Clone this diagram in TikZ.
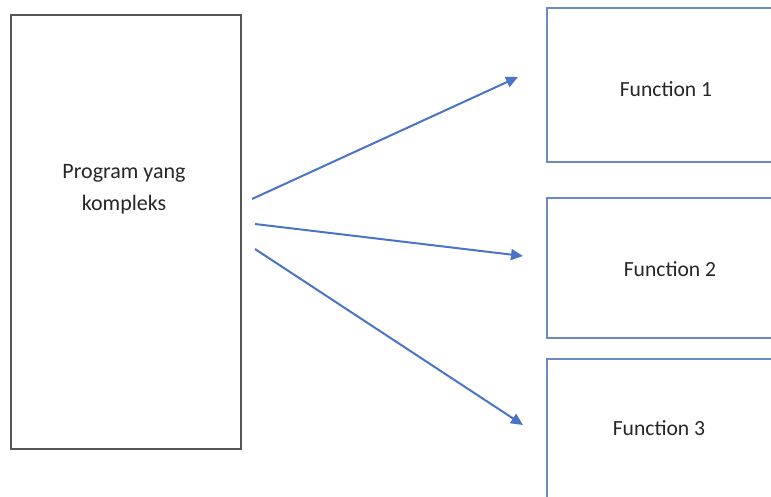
\documentclass[tikz,border=0pt]{standalone}
\usepackage{fontspec}
\setmainfont{Carlito}
\usetikzlibrary{arrows.meta}
\definecolor{boxblue}{HTML}{6A8AC8}
\definecolor{arrowblue}{HTML}{4A74C6}
\definecolor{boxgray}{HTML}{555555}
\definecolor{txt}{HTML}{262626}
\tikzset{
  prog/.style={draw=boxgray, line width=2pt, inner sep=0pt, anchor=north west},
  func/.style={draw=boxblue, line width=1.5pt, inner sep=0pt, anchor=north west},
  progtext/.style={font=\fontsize{22pt}{32pt}\selectfont, align=center, text=txt},
  functext/.style={font=\fontsize{21.6pt}{26pt}\selectfont, text=txt},
  conn/.style={draw=arrowblue, line width=2pt, -{Triangle[length=12pt,width=11pt]}}
}
\begin{document}
\begin{tikzpicture}[x=1pt,y=-1pt]
\useasboundingbox (0,0) rectangle (771,496);
\clip (0,0) rectangle (771,496);
\node[prog, minimum width=230pt, minimum height=434pt] (p) at (10,14) {};
\node[progtext] (pt) at (124,189) {Program yang\\kompleks};
\node[func, minimum width=240pt, minimum height=154pt] (f1) at (546,7) {};
\node[func, minimum width=240pt, minimum height=140pt] (f2) at (546,197) {};
\node[func, minimum width=240pt, minimum height=160pt] (f3) at (546,358) {};
\node[functext] (t1) at (666,89) {Function 1};
\node[functext] (t2) at (670,269) {Function 2};
\node[functext] (t3) at (659,428) {Function 3};
\coordinate (s1) at (252,199);
\coordinate (e1) at (518,77);
\coordinate (s2) at (255,224);
\coordinate (e2) at (523,256);
\coordinate (s3) at (255,249);
\coordinate (e3) at (523,425);
\draw[conn] (s1) -- (e1);
\draw[conn] (s2) -- (e2);
\draw[conn] (s3) -- (e3);
\end{tikzpicture}
\end{document}
